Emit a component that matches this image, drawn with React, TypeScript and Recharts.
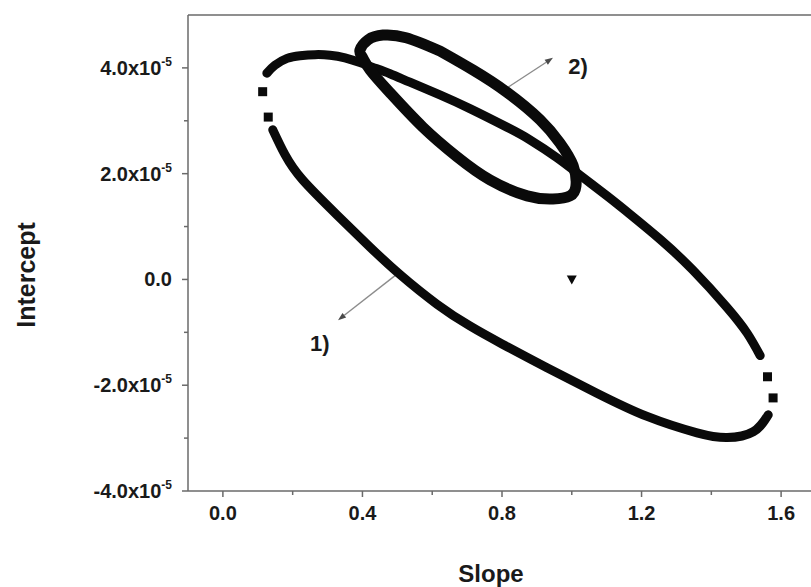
import React from "react";
import { ScatterChart, Scatter, XAxis, YAxis, ReferenceLine, ReferenceDot } from "recharts";

// values; intercepts are in units of 1e-5
const loop1UpperSlope = [0.126, 0.149, 0.184, 0.221, 0.264, 0.307, 0.35, 0.393, 0.43, 0.479, 0.536, 0.622, 0.708, 0.814, 0.88, 0.958, 1.024, 1.101, 1.158, 1.253, 1.348, 1.445, 1.503, 1.54];
const loop1UpperIntercept = [3.9, 4.05, 4.18, 4.23, 4.25, 4.24, 4.19, 4.1, 4.01, 3.89, 3.73, 3.49, 3.23, 2.88, 2.64, 2.3, 1.97, 1.58, 1.28, 0.76, 0.17, -0.53, -1.02, -1.44];
const loop1LowerSlope = [1.563, 1.52, 1.445, 1.359, 1.216, 1.072, 0.929, 0.8, 0.708, 0.614, 0.508, 0.422, 0.327, 0.229, 0.178, 0.143];
const loop1LowerIntercept = [-2.56, -2.88, -2.99, -2.9, -2.59, -2.15, -1.67, -1.22, -0.88, -0.47, 0.09, 0.61, 1.22, 1.88, 2.36, 2.83];
// sparse markers at the two tips of loop 1
const loop1TipSlope = [1.561, 1.577, 0.13, 0.114];
const loop1TipIntercept = [-1.84, -2.24, 3.07, 3.55];

const loop2Slope = [0.622, 0.717, 0.814, 0.909, 0.966, 1.004, 1.012, 0.995, 0.946, 0.872, 0.766, 0.671, 0.573, 0.479, 0.422, 0.399, 0.393, 0.416, 0.459, 0.525, 0.622];
const loop2Intercept = [4.32, 3.96, 3.54, 3.02, 2.58, 2.15, 1.77, 1.58, 1.52, 1.58, 1.88, 2.32, 2.88, 3.53, 3.96, 4.21, 4.34, 4.53, 4.62, 4.57, 4.32];

const trueSlope = [1.0];
const trueIntercept = [0];

const slopeTicks = [0, 0.2, 0.4, 0.6, 0.8, 1.0, 1.2, 1.4, 1.6];
const slopeLabels = ["0.0", "", "0.4", "", "0.8", "", "1.2", "", "1.6"];
const interceptTicks = [-4e-5, -3e-5, -2e-5, -1e-5, 0, 1e-5, 2e-5, 3e-5, 4e-5];
const interceptLabels = ["-4.0x10", "", "-2.0x10", "", "0.0", "", "2.0x10", "", "4.0x10"];
const interceptExponents = ["-5", "", "-5", "", "", "", "-5", "", "-5"];

// annotation arrows: [fromSlope, fromIntercept, toSlope, toIntercept]
const arrow1 = [0.499, 0.1, 0.33, -0.77];
const arrow2 = [0.814, 3.62, 0.946, 4.19];
const noteText = ["1)", "2)"];
const noteSlope = [0.278, 1.018];
const noteIntercept = [-1.2, 4.04];

const E = 1e-5;
const toPoints = (xs: number[], ys: number[]) => xs.map((x, i) => ({ x, y: ys[i] * E }));

const FONT = "'Liberation Sans', Arial, Helvetica, sans-serif";
const AXIS = "#6a6a6a";
const INK = "#0a0a0a";
const TEXT = "#1a1a1a";

function SlopeTick(props: any) {
  const { x, y, payload } = props;
  const i = slopeTicks.indexOf(payload.value);
  const label = slopeLabels[i] || "";
  const major = label !== "";
  return (
    <g>
      <line x1={x} y1={y} x2={x} y2={y + (major ? 6 : 4)} stroke={AXIS} strokeWidth={1.5} />
      {major && (
        <text x={x} y={y + 29} textAnchor="middle" fontFamily={FONT} fontWeight="bold" fontSize={20} fill={TEXT}>
          {label}
        </text>
      )}
    </g>
  );
}

function InterceptTick(props: any) {
  const { x, y, payload } = props;
  const i = interceptTicks.indexOf(payload.value);
  const label = interceptLabels[i] || "";
  const exp = interceptExponents[i] || "";
  const major = label !== "";
  return (
    <g>
      <line x1={x} y1={y} x2={x - (major ? 6 : 4)} y2={y} stroke={AXIS} strokeWidth={1.5} />
      {major && (
        <text x={x - 16} y={y + 7} textAnchor="end" fontFamily={FONT} fontWeight="bold" fontSize={20} fill={TEXT}>
          {label}
          {exp && (
            <tspan dy={-9} fontSize={12}>
              {exp}
            </tspan>
          )}
        </text>
      )}
    </g>
  );
}

const square = (side: number) => (p: any) =>
  <rect x={p.cx - side / 2} y={p.cy - side / 2} width={side} height={side} fill={INK} />;

const noMarker = () => <g />;

const downTriangle = (p: any) => (
  <polygon points={`${p.cx - 5},${p.cy - 4} ${p.cx + 5},${p.cy - 4} ${p.cx},${p.cy + 5}`} fill={INK} />
);

function ArrowShape(props: any) {
  const { x1, y1, x2, y2 } = props;
  const a = Math.atan2(y2 - y1, x2 - x1);
  const len = 8;
  const half = 3;
  const bx = x2 - len * Math.cos(a);
  const by = y2 - len * Math.sin(a);
  const px = half * Math.sin(a);
  const py = half * Math.cos(a);
  return (
    <g>
      <line x1={x1} y1={y1} x2={bx} y2={by} stroke="#8c8c8c" strokeWidth={1.4} />
      <polygon points={`${x2},${y2} ${bx + px},${by - py} ${bx - px},${by + py}`} fill="#4a4a4a" />
    </g>
  );
}

const noteShape = (text: string) => (p: any) => (
  <text x={p.cx} y={p.cy + 8} textAnchor="middle" fontFamily={FONT} fontWeight="bold" fontSize={22} fill={TEXT}>
    {text}
  </text>
);

const YTitle = () => (
  <text x={35} y={275} transform="rotate(-90, 35, 275)" textAnchor="middle" fontFamily={FONT} fontWeight="bold" fontSize={25} fill={TEXT}>
    Intercept
  </text>
);

const XTitle = () => (
  <text x={491} y={582} textAnchor="middle" fontFamily={FONT} fontWeight="bold" fontSize={24} fill={TEXT}>
    Slope
  </text>
);

export default function App() {
  const band1 = { stroke: INK, strokeWidth: 9, strokeLinejoin: "round", strokeLinecap: "round" } as any;
  const band2 = { stroke: INK, strokeWidth: 11, strokeLinejoin: "round", strokeLinecap: "round" } as any;
  return (
    <div style={{ position: "absolute", left: 0, top: 0, width: 811, height: 587, overflow: "hidden", background: "#fff" }}>
      <ScatterChart width={830} height={587} margin={{ top: 15, right: 14, bottom: 0, left: 0 }}>
        <XAxis
          type="number"
          dataKey="x"
          domain={[-0.1, 1.7]}
          ticks={slopeTicks}
          interval={0}
          tickSize={0}
          tickMargin={0}
          tick={<SlopeTick />}
          height={96}
          axisLine={{ stroke: AXIS, strokeWidth: 1.5 }}
          allowDataOverflow
          label={<XTitle />}
        />
        <YAxis
          type="number"
          dataKey="y"
          domain={[-4e-5, 5e-5]}
          ticks={interceptTicks}
          interval={0}
          tickSize={0}
          tickMargin={0}
          tick={<InterceptTick />}
          width={188}
          axisLine={{ stroke: AXIS, strokeWidth: 1.5 }}
          allowDataOverflow
          label={<YTitle />}
        />
        <ReferenceLine y={5e-5} stroke={AXIS} strokeWidth={1.5} />
        <Scatter data={toPoints(loop1UpperSlope, loop1UpperIntercept)} line={band1} lineJointType="natural" shape={noMarker} isAnimationActive={false} />
        <Scatter data={toPoints(loop1LowerSlope, loop1LowerIntercept)} line={band1} lineJointType="natural" shape={noMarker} isAnimationActive={false} />
        <Scatter data={toPoints(loop1TipSlope, loop1TipIntercept)} shape={square(9)} isAnimationActive={false} />
        <Scatter data={toPoints(loop2Slope, loop2Intercept)} line={band2} lineJointType="natural" shape={noMarker} isAnimationActive={false} />
        <Scatter data={toPoints(trueSlope, trueIntercept)} shape={downTriangle} isAnimationActive={false} />
        <ReferenceLine segment={[{ x: arrow1[0], y: arrow1[1] * E }, { x: arrow1[2], y: arrow1[3] * E }]} shape={ArrowShape} />
        <ReferenceLine segment={[{ x: arrow2[0], y: arrow2[1] * E }, { x: arrow2[2], y: arrow2[3] * E }]} shape={ArrowShape} />
        {noteText.map((t, i) => (
          <ReferenceDot key={t} x={noteSlope[i]} y={noteIntercept[i] * E} r={0} shape={noteShape(t)} />
        ))}
      </ScatterChart>
    </div>
  );
}
